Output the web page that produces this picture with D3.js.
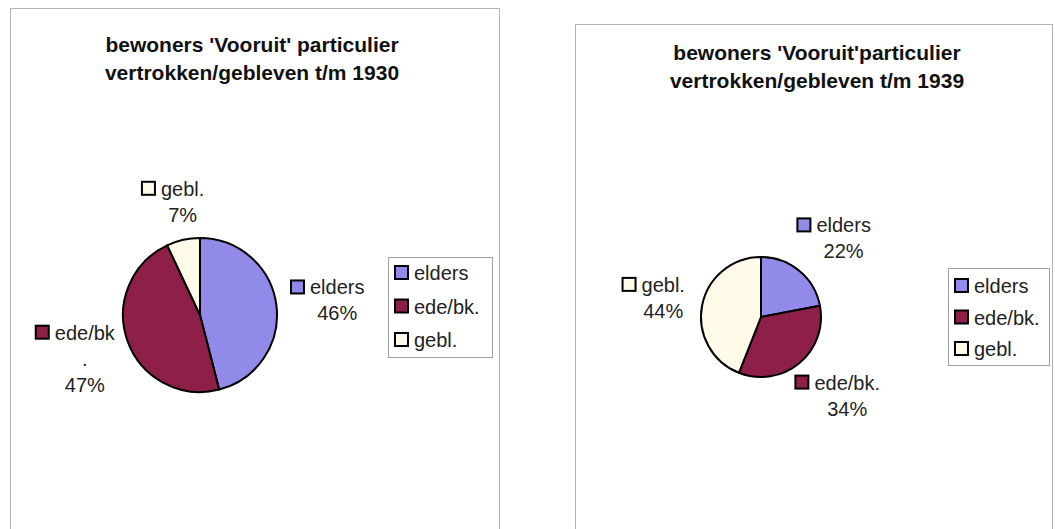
<!DOCTYPE html>
<html>
<head>
<meta charset="utf-8">
<script src="https://cdn.jsdelivr.net/npm/d3@7"></script>
<style>
  body { margin: 0; background: #fff; }
  svg { display: block; }
  text { font-family: Arial, "Liberation Sans", sans-serif; }
</style>
</head>
<body>
<svg id="chart" width="1055" height="529"></svg>
<script>
// categories and colours shared by both pies
var categories = ["elders", "ede/bk.", "gebl."];
var colors = ["#918ae8", "#8e1f48", "#fffbe8"];

// share per category (percent)
var values1930 = [46, 47, 7];
var values1939 = [22, 34, 44];

// data label names as they are wrapped in each chart
var labelLines1930 = [["elders"], ["ede/bk", "."], ["gebl."]];
var labelLines1939 = [["elders"], ["ede/bk."], ["gebl."]];

var titles1930 = ["bewoners 'Vooruit' particulier", "vertrokken/gebleven t/m 1930"];
var titles1939 = ["bewoners 'Vooruit'particulier", "vertrokken/gebleven t/m 1939"];

var svg = d3.select("#chart");

function drawPanel(opt) {
    var g = svg.append("g");

    // panel frame
    g.append("rect")
        .attr("x", opt.frame[0] + 0.5)
        .attr("y", opt.frame[1] + 0.5)
        .attr("width", opt.frame[2])
        .attr("height", opt.frame[3])
        .attr("fill", "#fff")
        .attr("stroke", "#b4b4b4")
        .attr("stroke-width", 1);

    // title
    g.selectAll(".title")
        .data(opt.titles)
        .enter()
        .append("text")
        .attr("class", "title")
        .attr("x", opt.titleX)
        .attr("y", function(d, i) { return opt.titleY + i * 28; })
        .attr("text-anchor", "middle")
        .attr("font-size", 21)
        .attr("font-weight", "bold")
        .attr("fill", "#111")
        .text(function(d) { return d; });

    var pie = d3.pie().sort(null).value(function(d) { return d; });
    var arcs = pie(opt.values);
    var arc = d3.arc().innerRadius(0).outerRadius(opt.r);

    var pg = g.append("g")
        .attr("transform", "translate(" + opt.cx + "," + opt.cy + ")");

    pg.selectAll("path")
        .data(arcs)
        .enter()
        .append("path")
        .attr("d", arc)
        .attr("fill", function(d, i) { return colors[i]; })
        .attr("stroke", "#000")
        .attr("stroke-width", 2)
        .attr("stroke-linejoin", "round");

    // data labels: key square + name, then percentage
    arcs.forEach(function(a, i) {
        var lines = opt.labelLines[i].concat([opt.values[i] + "%"]);
        var lg = g.append("g");
        lg.selectAll("text")
            .data(lines)
            .enter()
            .append("text")
            .attr("x", 0)
            .attr("y", function(d, k) { return k * 26; })
            .attr("text-anchor", "middle")
            .attr("font-size", 20)
            .attr("fill", "#222")
            .text(function(d) { return d; });
        var w1 = lg.select("text").node().getComputedTextLength();
        lg.append("rect")
            .attr("x", -w1 / 2 - 19)
            .attr("y", -14)
            .attr("width", 13)
            .attr("height", 13)
            .attr("fill", colors[i])
            .attr("stroke", "#000")
            .attr("stroke-width", 2);

        var bb = lg.node().getBBox();
        var mid = (a.startAngle + a.endAngle) / 2;
        var s = Math.sin(mid), c = Math.cos(mid);
        var px = opt.cx + s * (opt.r + opt.gap);
        var py = opt.cy - c * (opt.r + opt.gap);
        var bx = px + s * bb.width / 2;
        var by = py - c * bb.height / 2;
        lg.attr("transform", "translate(" + (bx - (bb.x + bb.width / 2)) + "," +
            (by - (bb.y + bb.height / 2)) + ")");
    });

    // legend
    var L = opt.legend;
    g.append("rect")
        .attr("x", L.x + 0.5)
        .attr("y", L.y + 0.5)
        .attr("width", L.w)
        .attr("height", L.h)
        .attr("fill", "#fff")
        .attr("stroke", "#a0a0a0")
        .attr("stroke-width", 1);
    var items = g.selectAll(".leg")
        .data(categories)
        .enter()
        .append("g")
        .attr("class", "leg")
        .attr("transform", function(d, i) {
            return "translate(" + (L.x + 7) + "," + (L.y + L.first + i * L.step) + ")";
        });
    items.append("rect")
        .attr("x", 0)
        .attr("y", -14)
        .attr("width", 13)
        .attr("height", 13)
        .attr("fill", function(d, i) { return colors[i]; })
        .attr("stroke", "#000")
        .attr("stroke-width", 2);
    items.append("text")
        .attr("x", 19)
        .attr("y", 0)
        .attr("font-size", 20)
        .attr("fill", "#222")
        .text(function(d) { return d; });
}

drawPanel({
    frame: [10, 8, 489, 540],
    titles: titles1930, titleX: 252, titleY: 52,
    values: values1930, labelLines: labelLines1930,
    cx: 200, cy: 315, r: 77, gap: 15,
    legend: { x: 388, y: 257, w: 104, h: 100, first: 23, step: 33.5 }
});

drawPanel({
    frame: [575, 24, 477, 540],
    titles: titles1939, titleX: 817, titleY: 60,
    values: values1939, labelLines: labelLines1939,
    cx: 761, cy: 317, r: 60, gap: 18,
    legend: { x: 948, y: 268, w: 101, h: 97, first: 25, step: 31.5 }
});
</script>
</body>
</html>
